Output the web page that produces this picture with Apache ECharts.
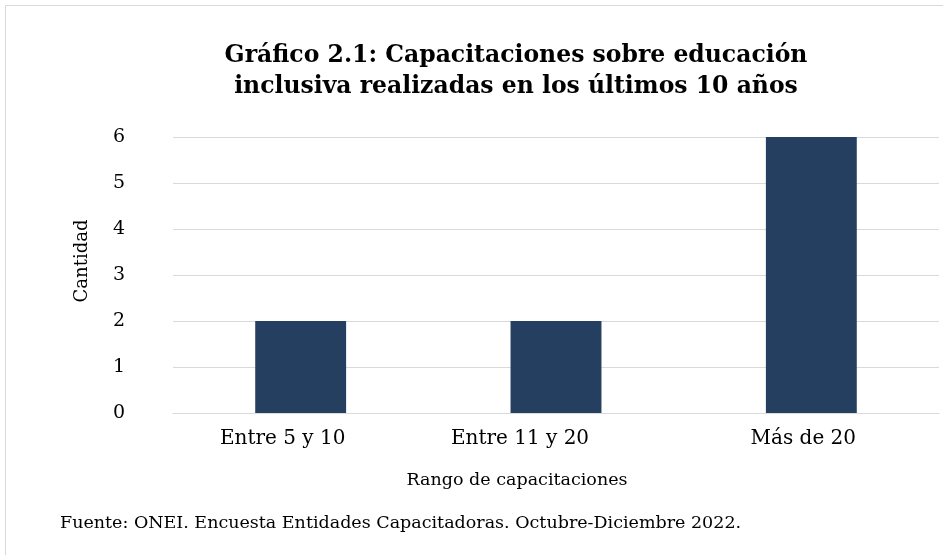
<!DOCTYPE html>
<html>
<head>
<meta charset="utf-8">
<script src="https://cdn.jsdelivr.net/npm/echarts@6/dist/echarts.min.js"></script>
<style>
html,body{margin:0;padding:0;background:#fff;}
#chart{width:943px;height:555px;}
</style>
</head>
<body>
<div id="chart"></div>
<script>
var categories = ['Entre 5 y 10', 'Entre 11 y 20', 'Más de 20'];
var values = [2, 2, 6];
var yTicks = [0, 1, 2, 3, 4, 5, 6];
var titleText = 'Gráfico 2.1: Capacitaciones sobre educación\ninclusiva realizadas en los últimos 10 años';
var yName = 'Cantidad';
var xName = 'Rango de capacitaciones';
var sourceText = 'Fuente: ONEI. Encuesta Entidades Capacitadoras. Octubre-Diciembre 2022.';

var FONT = '"DejaVu Serif", serif';
var labelRich = {
  a0: {fontFamily: FONT, fontSize: 20, color: '#000', padding: [0, 36, 0, 0]},
  a1: {fontFamily: FONT, fontSize: 20, color: '#000', padding: [0, 72, 0, 0]},
  a2: {fontFamily: FONT, fontSize: 20, color: '#000', padding: [0, 16, 0, 0]}
};
var chart = echarts.init(document.getElementById('chart'), null, {renderer: 'canvas'});
chart.setOption({
  backgroundColor: '#ffffff',
  animation: false,
  title: {
    text: titleText,
    left: 516,
    top: 40,
    textAlign: 'center',
    padding: 0,
    textStyle: {fontFamily: FONT, fontWeight: 'bold', fontSize: 23.5, lineHeight: 31, color: '#000'}
  },
  grid: {left: 173, right: 4, top: 137, bottom: 142, containLabel: false},
  xAxis: {
    type: 'category',
    data: categories,
    name: xName,
    nameLocation: 'middle',
    nameGap: 58,
    nameTextStyle: {fontFamily: FONT, fontSize: 17.5, color: '#000', padding: [0, 78, 0, 0]},
    axisLine: {show: true, lineStyle: {color: '#d9d9d9', width: 1}},
    axisTick: {show: false},
    axisLabel: {
      fontFamily: FONT, fontSize: 20, color: '#000', margin: 16,
      formatter: function (v, i) { return '{a' + i + '|' + v + '}'; },
      rich: labelRich
    }
  },
  yAxis: {
    type: 'value',
    min: yTicks[0],
    max: yTicks[yTicks.length - 1],
    interval: 1,
    name: yName,
    nameLocation: 'middle',
    nameGap: 82,
    nameRotate: 90,
    nameTextStyle: {fontFamily: FONT, fontSize: 18, color: '#000', padding: [0, 0, 0, 28]},
    axisLine: {show: false},
    axisTick: {show: false},
    splitLine: {lineStyle: {color: '#d9d9d9', width: 1}},
    axisLabel: {fontFamily: FONT, fontSize: 19, color: '#000', margin: 48}
  },
  series: [{
    type: 'bar',
    data: values,
    barWidth: '35.6%',
    itemStyle: {color: '#243f60'}
  }],
  graphic: [
    {type: 'rect', silent: true, shape: {x: 5.5, y: 5.5, width: 960, height: 600},
     style: {fill: null, stroke: '#d9d9d9', lineWidth: 1}},
    {type: 'text', left: 60, top: 514,
     style: {text: sourceText, font: '17.5px "DejaVu Serif", serif', fill: '#000'}}
  ]
});
</script>
</body>
</html>
